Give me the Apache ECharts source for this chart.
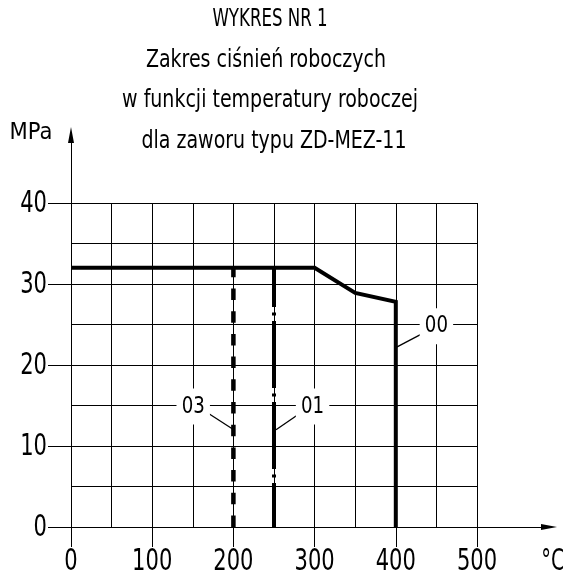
<!DOCTYPE html>
<html>
<head>
<meta charset="utf-8">
<script src="https://cdn.jsdelivr.net/npm/echarts@6/dist/echarts.min.js"></script>
<style>
html,body{margin:0;padding:0;background:#fff;}
#c{width:563px;height:581px;}
</style>
</head>
<body>
<div id="c"></div>
<script>
// ---- data ----
const titleLines = ['WYKRES NR 1', 'Zakres ciśnień roboczych', 'w funkcji temperatury roboczej', 'dla zaworu typu ZD-MEZ-11'];
const yUnit = 'MPa';
const xUnit = '°C';
const xTicks = [0, 100, 200, 300, 400, 500];
const yTicks = [0, 10, 20, 30, 40];
// curve 00
const line00 = [[0, 32], [300, 32], [350, 28.9], [400, 27.8], [400, 0]];
// curve 01 (dash-dot)
const line01 = [[250, 0], [250, 32]];
// curve 03 (dashed)
const line03 = [[200, 0], [200, 32]];
// label names and anchor points
const labelNames = ['00', '01', '03'];
const labelPoints = [[450, 24.9], [297.5, 15], [150.5, 15]];
// leader lines
const leader00 = [[401, 22.2], [435, 24]];
const leader01 = [[252.5, 12], [283, 14.1]];
const leader03 = [[199, 12.1], [168, 14.1]];

const FONT = '"DejaVu Sans Condensed", "DejaVu Sans", sans-serif';
const chart = echarts.init(document.getElementById('c'), null, {renderer: 'canvas'});

const hidden = {show: false};
const blk = {color: '#000', width: 1};
const option = {
  backgroundColor: '#fff',
  animation: false,
  grid: [
    {left: 71, right: 86, top: 203, bottom: 54},
    {left: 71, right: 14, top: 135, bottom: 54}
  ],
  xAxis: [
    {
      type: 'value', gridIndex: 0, min: xTicks[0], max: xTicks[xTicks.length - 1], interval: xTicks[1] - xTicks[0],
      axisLine: {show: true, lineStyle: blk},
      axisTick: {show: true, length: 20, lineStyle: blk},
      axisLabel: hidden,
      splitLine: {show: true, lineStyle: blk},
      minorTick: {show: false, splitNumber: 2},
      minorSplitLine: {show: true, lineStyle: blk}
    },
    {
      type: 'value', gridIndex: 1, min: 0, max: 1,
      axisLine: {show: true, symbol: ['none', 'triangle'], symbolSize: [6, 16], lineStyle: blk},
      axisTick: hidden, axisLabel: hidden, splitLine: hidden
    }
  ],
  yAxis: [
    {
      type: 'value', gridIndex: 0, min: yTicks[0], max: yTicks[yTicks.length - 1], interval: yTicks[1] - yTicks[0],
      axisLine: {show: true, lineStyle: blk},
      axisTick: {show: true, length: 23, lineStyle: blk},
      axisLabel: hidden,
      splitLine: {show: true, lineStyle: blk},
      minorTick: {show: false, splitNumber: 2},
      minorSplitLine: {show: true, lineStyle: blk}
    },
    {
      type: 'value', gridIndex: 1, min: 0, max: 1,
      axisLine: {show: true, symbol: ['none', 'triangle'], symbolSize: [6, 16], lineStyle: blk},
      axisTick: hidden, axisLabel: hidden, splitLine: hidden
    }
  ],
  series: [
    {type: 'line', name: '00', data: line00, symbol: 'none', z: 5,
      lineStyle: {color: '#000', width: 4, join: 'miter'}},
    {type: 'line', name: '01', data: line01, symbol: 'none', z: 5,
      lineStyle: {color: '#000', width: 4, type: [67, 5.5, 3, 5.5], dashOffset: 23}},
    {type: 'line', name: '03', data: line03, symbol: 'none', z: 5,
      lineStyle: {color: '#000', width: 4.5, type: [11.5, 11.2]}},
    {type: 'line', data: leader00, symbol: 'none', z: 6, lineStyle: {color: '#000', width: 1.3}},
    {type: 'line', data: leader01, symbol: 'none', z: 6, lineStyle: {color: '#000', width: 1.3}},
    {type: 'line', data: leader03, symbol: 'none', z: 6, lineStyle: {color: '#000', width: 1.3}}
  ]
};
chart.setOption(option);

// ---- text, placed through the chart's own scales ----
function txt(x, y, s, size, align, sx, thin, extra) {
  const style = Object.assign({
    text: s, x: 0, y: 0, font: size + 'px ' + FONT, fill: '#000',
    align: align, verticalAlign: 'middle',
    stroke: '#fff', lineWidth: thin
  }, extra || {});
  return {type: 'text', x: x, y: y, scaleX: sx, z: 100, style: style};
}
const g = [];
const AS = 30;
const titleSize = [24, 24, 24, 24];
const titleScale = [0.77, 0.88, 0.88, 0.88];
const titleCenter = [270, 266, 270, 274];
titleLines.forEach((t, i) => g.push(txt(titleCenter[i], 20 + i * 40.5, t, titleSize[i], 'center', titleScale[i], 0.6)));
const y0 = chart.convertToPixel({yAxisIndex: 0}, 0);
const x0 = chart.convertToPixel({xAxisIndex: 0}, 0);
xTicks.forEach(v => g.push(txt(chart.convertToPixel({xAxisIndex: 0}, v), y0 + 35, String(v), AS, 'center', 0.78, 0.8)));
yTicks.forEach(v => g.push(txt(x0 - 24, chart.convertToPixel({yAxisIndex: 0}, v) + 1, String(v), AS, 'right', 0.78, 0.8)));
g.push(txt(x0 - 40, 133, yUnit, 23.5, 'center', 1.0, 0.6));
g.push(txt(553, y0 + 35, xUnit, AS, 'center', 0.72, 0.8));
labelNames.forEach((n, i) => {
  const p = chart.convertToPixel({gridIndex: 0}, labelPoints[i]);
  g.push(txt(p[0], p[1] + 1, n, 23.5, 'center', 0.86, 0.6,
    {backgroundColor: '#fff', padding: [6, 6, 6, 6]}));
});
chart.setOption({graphic: g});
</script>
</body>
</html>
